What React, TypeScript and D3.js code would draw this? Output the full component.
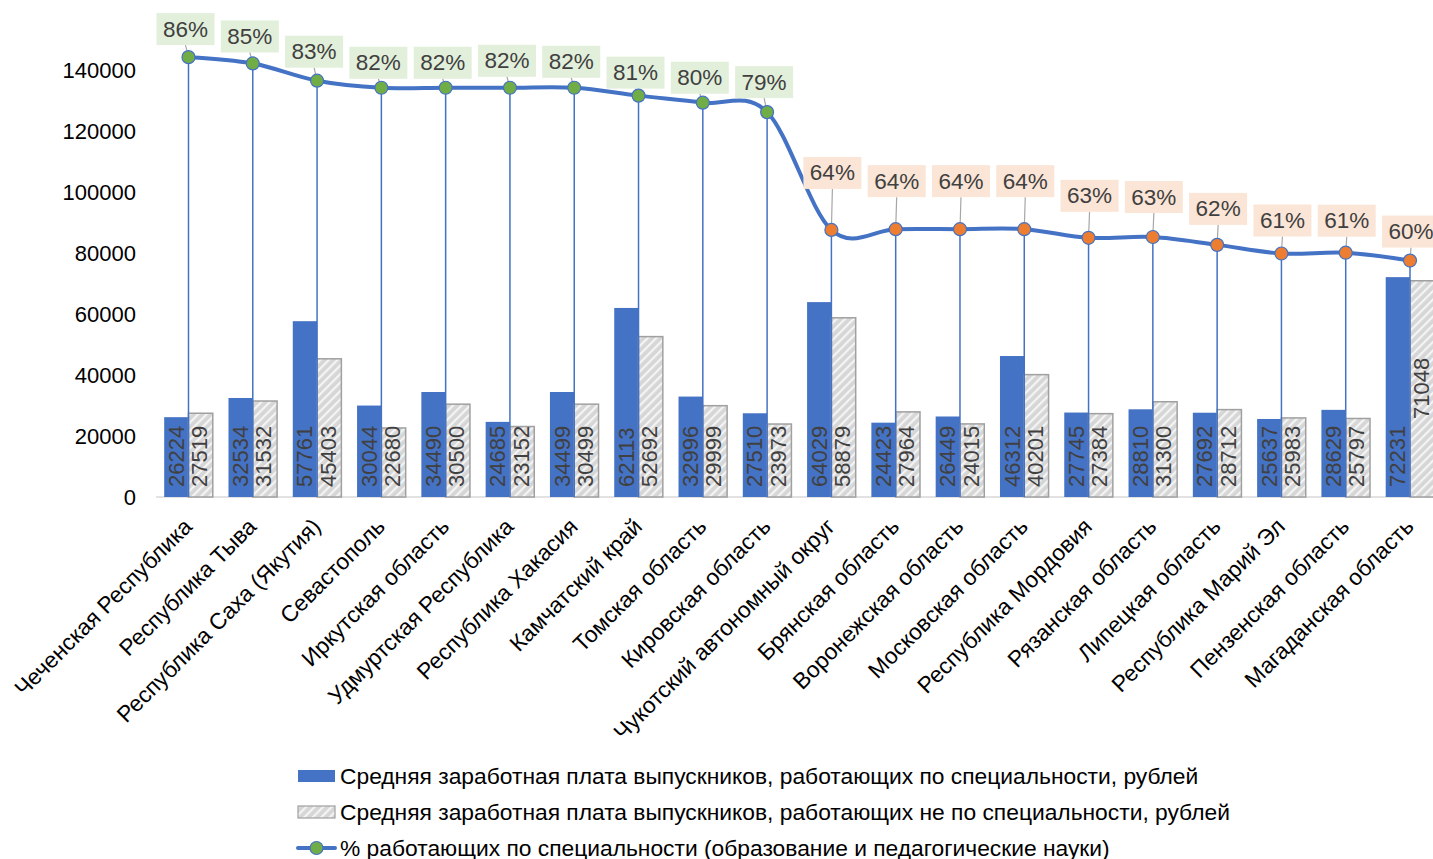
import React from "react";
import * as d3 from "d3";

const categories = [
  "Чеченская Республика",
  "Республика Тыва",
  "Республика Саха (Якутия)",
  "Севастополь",
  "Иркутская область",
  "Удмуртская Республика",
  "Республика Хакасия",
  "Камчатский край",
  "Томская область",
  "Кировская область",
  "Чукотский автономный округ",
  "Брянская область",
  "Воронежская область",
  "Московская область",
  "Республика Мордовия",
  "Рязанская область",
  "Липецкая область",
  "Республика Марий Эл",
  "Пензенская область",
  "Магаданская область",
];

const salaryInSpecialty = [
  26224, 32534, 57761, 30044, 34490, 24685, 34499, 62113, 32996, 27510,
  64029, 24423, 26449, 46312, 27745, 28810, 27692, 25637, 28629, 72231,
];

const salaryOutsideSpecialty = [
  27519, 31532, 45403, 22680, 30500, 23152, 30499, 52692, 29999, 23973,
  58879, 27964, 24015, 40201, 27384, 31300, 28712, 25983, 25797, 71048,
];

const pctInSpecialty = [
  86.0, 85.2, 83.0, 82.1, 82.1, 82.1, 82.1, 81.1, 80.2, 79.0,
  64.0, 64.1, 64.1, 64.1, 63.0, 63.1, 62.1, 61.0, 61.1, 60.1,
];

const yTicks = [0, 20000, 40000, 60000, 80000, 100000, 120000, 140000];

const legendLabels = [
  "Средняя заработная плата выпускников, работающих по специальности, рублей",
  "Средняя заработная плата выпускников, работающих не по специальности, рублей",
  "% работающих по специальности (образование и педагогические науки)",
];

// label placement (vertical offset of percentage label centre above its point)
const pctLabelDy = [
  -28, -27, -29, -25, -25, -27, -26, -23, -25, -30,
  -57, -48, -48, -48, -42, -40, -36, -33, -32, -29,
];
// manual lift of individual grey-bar value labels (px)
const outsideLabelLift = [
  0, 0, 0, 0, 0, 0, 0, 0, 0, 0,
  0, 0, 0, 0, 0, 0, 0, 0, 0, 68,
];

const W = 1433;
const H = 859;
const FONT = "'Liberation Sans', Arial, sans-serif";
const BLUE = "#4472C4";
const TEXT = "#404040";

export default function App() {
  const x = d3
    .scaleBand<string>()
    .domain(categories)
    .range([156.35, 1442.15])
    .paddingInner(0.244)
    .paddingOuter(0.122);
  const bw = x.bandwidth() / 2;
  const cx = (c: string) => (x(c) as number) + x.bandwidth() / 2;

  const y = d3.scaleLinear().domain([0, 160000]).range([497, 10]);
  const y2 = d3.scaleLinear().domain([30, 92]).range([497, 10]);

  const pts: [number, number][] = categories.map((c, i) => [cx(c), y2(pctInSpecialty[i])]);
  const line = d3.line().curve(d3.curveCatmullRom.alpha(0))(pts) as string;

  const isGreen = (i: number) => pctInSpecialty[i] >= 70;

  return (
    <div style={{ position: "absolute", left: 0, top: 0, width: W, height: H, overflow: "hidden", background: "#fff" }}>
      <svg width={W} height={H} style={{ display: "block", fontFamily: FONT }}>
        <defs>
          <pattern id="hatch" patternUnits="userSpaceOnUse" width="6" height="6" patternTransform="rotate(45)">
            <rect width="6" height="6" fill="#d6d6d6" />
            <rect width="2.2" height="6" fill="#f4f4f4" />
          </pattern>
        </defs>

        {/* y axis labels */}
        {yTicks.map((t) => (
          <text key={t} x={136} y={y(t)} textAnchor="end" dominantBaseline="central" fontSize={22} fill="#000">
            {t}
          </text>
        ))}

        {/* baseline */}
        <line x1={156} x2={W} y1={y(0)} y2={y(0)} stroke="#d9d9d9" strokeWidth={1.5} />

        {/* bars */}
        {categories.map((c, i) => {
          const x0 = x(c) as number;
          return (
            <g key={c}>
              <rect x={x0} y={y(salaryInSpecialty[i])} width={bw} height={y(0) - y(salaryInSpecialty[i])} fill={BLUE} />
              <rect
                x={x0 + bw}
                y={y(salaryOutsideSpecialty[i])}
                width={bw}
                height={y(0) - y(salaryOutsideSpecialty[i])}
                fill="url(#hatch)"
                stroke="#a0a0a0"
                strokeWidth={1.5}
              />
            </g>
          );
        })}

        {/* bar value labels */}
        {categories.map((c, i) => {
          const x0 = x(c) as number;
          const a = x0 + bw / 2;
          const b = x0 + bw * 1.5 - 1;
          const yb = y(0) - 10;
          return (
            <g key={"l" + c} fontSize={22} fill={TEXT}>
              <text transform={`translate(${a},${yb}) rotate(-90)`} dominantBaseline="central">
                {salaryInSpecialty[i]}
              </text>
              <text transform={`translate(${b},${yb - outsideLabelLift[i]}) rotate(-90)`} dominantBaseline="central">
                {salaryOutsideSpecialty[i]}
              </text>
            </g>
          );
        })}

        {/* drop lines */}
        {pts.map((p, i) => (
          <line key={"d" + i} x1={p[0]} x2={p[0]} y1={p[1]} y2={y(0)} stroke={BLUE} strokeWidth={1.5} />
        ))}

        {/* line */}
        <path d={line} fill="none" stroke={BLUE} strokeWidth={4} strokeLinecap="round" />

        {/* percentage labels */}
        {pts.map((p, i) => {
          const green = isGreen(i);
          const lx = p[0] + (green ? -3 : 1);
          const ly = p[1] + pctLabelDy[i];
          const bwid = 58;
          const bh = 32;
          return (
            <g key={"p" + i}>
              <line x1={lx} x2={p[0]} y1={ly + bh / 2} y2={p[1]} stroke="#a6a6a6" strokeWidth={1.2} />
              <rect x={lx - bwid / 2} y={ly - bh / 2} width={bwid} height={bh} fill={green ? "#E2EFDA" : "#FBE5D6"} />
              <text x={lx} y={ly} textAnchor="middle" dominantBaseline="central" fontSize={22.5} fill={TEXT}>
                {Math.round(pctInSpecialty[i]) + "%"}
              </text>
            </g>
          );
        })}

        {/* markers */}
        {pts.map((p, i) => (
          <circle
            key={"m" + i}
            cx={p[0]}
            cy={p[1]}
            r={6.5}
            fill={isGreen(i) ? "#70AD47" : "#ED7D31"}
            stroke={BLUE}
            strokeWidth={1.2}
          />
        ))}

        {/* category labels */}
        {categories.map((c) => (
          <text
            key={"c" + c}
            transform={`translate(${cx(c) + 5},${y(0) + 31}) rotate(-45)`}
            textAnchor="end"
            fontSize={22.7}
            fill="#000"
          >
            {c}
          </text>
        ))}

        {/* legend */}
        <g fontSize={22.8} fill="#000">
          <rect x={298} y={770} width={37} height={12} fill={BLUE} />
          <text x={340} y={776} dominantBaseline="central">{legendLabels[0]}</text>
          <rect x={298} y={806} width={37} height={12} fill="url(#hatch)" stroke="#a0a0a0" strokeWidth={1.2} />
          <text x={340} y={812} dominantBaseline="central">{legendLabels[1]}</text>
          <line x1={298} x2={335} y1={848} y2={848} stroke={BLUE} strokeWidth={4} strokeLinecap="round" />
          <circle cx={316.5} cy={848} r={6.5} fill="#70AD47" stroke={BLUE} strokeWidth={1.2} />
          <text x={340} y={848} dominantBaseline="central">{legendLabels[2]}</text>
        </g>
      </svg>
    </div>
  );
}
